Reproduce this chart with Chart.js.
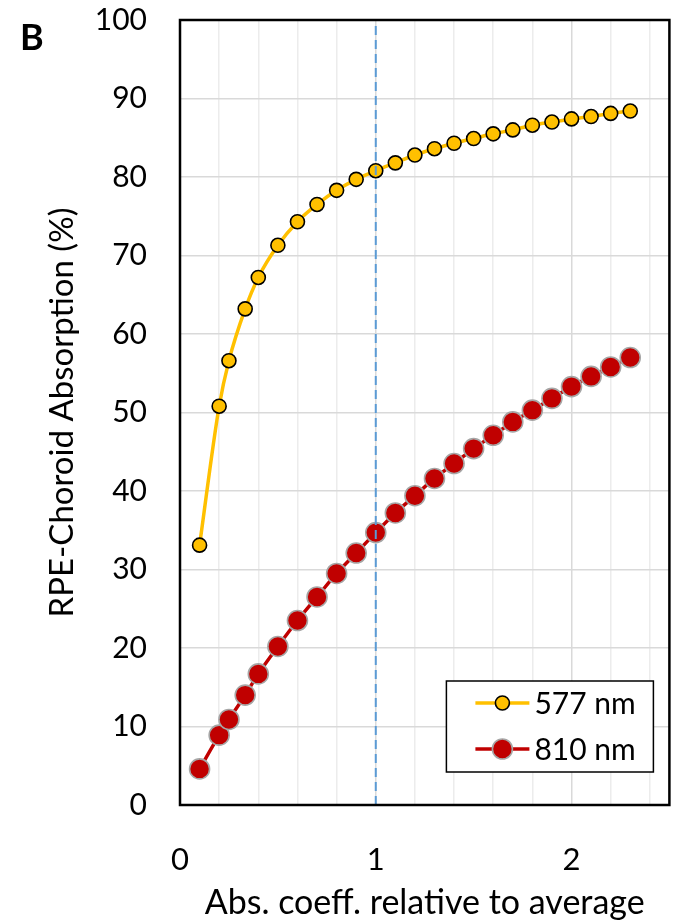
<!DOCTYPE html>
<html>
<head>
<meta charset="utf-8">
<script src="https://cdn.jsdelivr.net/npm/chart.js@4/dist/chart.umd.min.js"></script>
<style>
  body { margin: 0; background: #fff; }
  #wrap { position: relative; width: 681px; height: 923px; }
</style>
</head>
<body>
<div id="wrap"><canvas id="myChart" width="681" height="923"></canvas></div>
<script>
// abs. coefficient relative to average (x values)
const coeff = [0.1, 0.2, 0.25, 0.333, 0.4, 0.5, 0.6, 0.7, 0.8, 0.9, 1.0, 1.1, 1.2, 1.3, 1.4, 1.5, 1.6, 1.7, 1.8, 1.9, 2.0, 2.1, 2.2, 2.3];
const abs577 = [33.1, 50.8, 56.6, 63.2, 67.2, 71.3, 74.3, 76.5, 78.3, 79.7, 80.8, 81.8, 82.8, 83.6, 84.3, 84.9, 85.5, 86.0, 86.6, 87.0, 87.4, 87.7, 88.1, 88.4];
const abs810 = [4.6, 8.9, 10.9, 14.0, 16.7, 20.2, 23.5, 26.5, 29.5, 32.1, 34.7, 37.2, 39.4, 41.6, 43.5, 45.4, 47.1, 48.8, 50.3, 51.8, 53.3, 54.6, 55.8, 57.0];
const seriesNames = ["577 nm", "810 nm"];
const refLineX = [1, 1];
const refLineY = [0, 100];
const xTickLabels = ["0", "1", "2"];

const FONT = "Lato, 'Open Sans', sans-serif";

let toPoints = (xs, ys) => xs.map((x, i) => ({ x: x, y: ys[i] }));

// frame around the plot + legend box inside the plot
const framePlugin = {
    id: "frame",
    afterDraw(chart) {
        const c = chart.ctx;
        const a = chart.chartArea;
        c.save();
        c.strokeStyle = "#000";
        c.lineWidth = 2.5;
        c.strokeRect(a.left, a.top, a.right - a.left, a.bottom - a.top);

        // legend
        const bx = a.right - 223, by = a.bottom - 124, bw = 207, bh = 91;
        c.fillStyle = "#fff";
        c.fillRect(bx, by, bw, bh);
        c.lineWidth = 1.5;
        c.strokeRect(bx, by, bw, bh);
        const rows = [1, 2];
        rows.forEach((dsIndex, r) => {
            const ds = chart.data.datasets[dsIndex];
            const cy = by + 22 + r * 46;
            c.strokeStyle = ds.borderColor;
            c.lineWidth = ds.borderWidth;
            c.beginPath();
            c.moveTo(bx + 29, cy);
            c.lineTo(bx + 83, cy);
            c.stroke();
            c.beginPath();
            c.arc(bx + 56, cy, ds.pointRadius, 0, Math.PI * 2);
            c.fillStyle = ds.pointBackgroundColor;
            c.fill();
            c.strokeStyle = ds.pointBorderColor;
            c.lineWidth = ds.pointBorderWidth;
            c.stroke();
            c.fillStyle = "#000";
            c.font = "30px " + FONT;
            c.textBaseline = "middle";
            c.fillText(ds.label, bx + 88, cy + 1);
        });

        // panel letter
        c.fillStyle = "#000";
        c.font = "bold 36px " + FONT;
        c.textBaseline = "middle";
        c.fillText("B", 20, 38);
        c.restore();
    }
};

const ctx = document.getElementById("myChart");

new Chart(ctx, {
    type: "line",
    data: {
        datasets: [
            {
                label: "ref",
                data: toPoints(refLineX, refLineY),
                borderColor: "#5b9bd5",
                borderWidth: 2,
                borderDash: [9, 5],
                pointRadius: 0,
                fill: false
            },
            {
                label: seriesNames[0],
                data: toPoints(coeff, abs577),
                borderColor: "#ffc000",
                borderWidth: 3.5,
                cubicInterpolationMode: "monotone",
                pointRadius: 7,
                pointBackgroundColor: "#ffc000",
                pointBorderColor: "#000",
                pointBorderWidth: 1.6,
                fill: false
            },
            {
                label: seriesNames[1],
                data: toPoints(coeff, abs810),
                borderColor: "#c00000",
                borderWidth: 3.5,
                cubicInterpolationMode: "monotone",
                pointRadius: 10,
                pointBackgroundColor: "#c00000",
                pointBorderColor: "#a6a6a6",
                pointBorderWidth: 1.6,
                fill: false
            }
        ]
    },
    options: {
        responsive: false,
        devicePixelRatio: 1,
        animation: false,
        layout: { padding: { top: 20, right: 9, left: 0, bottom: 0 } },
        plugins: {
            legend: { display: false },
            tooltip: { enabled: false }
        },
        scales: {
            x: {
                type: "linear",
                min: 0,
                max: 2.5,
                afterFit: (s) => {
                    s.height = 118;
                    s.paddingLeft = 0;
                    s.paddingRight = 0;
                },
                afterBuildTicks: (s) => {
                    let t = [];
                    for (let i = 0; i <= 12; i++) t.push({ value: Math.round(i * 0.2 * 10) / 10 });
                    s.ticks = t;
                },
                grid: {
                    drawTicks: false,
                    lineWidth: 1.5,
                    color: (c) => (Number.isInteger(c.tick && c.tick.value) ? "#d9d9d9" : "#ececec")
                },
                border: { display: false },
                ticks: {
                    autoSkip: false,
                    maxRotation: 0,
                    padding: 36,
                    color: "#000",
                    font: { family: FONT, size: 31 },
                    callback: (v) => (xTickLabels.includes(String(v)) ? String(v) : "")
                },
                title: {
                    display: true,
                    text: "Abs. coeff. relative to average",
                    color: "#000",
                    font: { family: FONT, size: 34 },
                    padding: { top: 0, bottom: 0 }
                }
            },
            y: {
                min: 0,
                max: 100,
                afterFit: (s) => {
                    s.width = 180;
                    s.paddingTop = 0;
                    s.paddingBottom = 0;
                },
                grid: {
                    drawTicks: false,
                    lineWidth: 1.5,
                    color: "#d9d9d9"
                },
                border: { display: false },
                ticks: {
                    stepSize: 10,
                    padding: 33,
                    color: "#000",
                    font: { family: FONT, size: 30 }
                },
                title: {
                    display: true,
                    text: "RPE-Choroid Absorption (%)",
                    color: "#000",
                    font: { family: FONT, size: 33 },
                    padding: { top: 43, bottom: 0 }
                }
            }
        }
    },
    plugins: [framePlugin]
});
</script>
</body>
</html>
